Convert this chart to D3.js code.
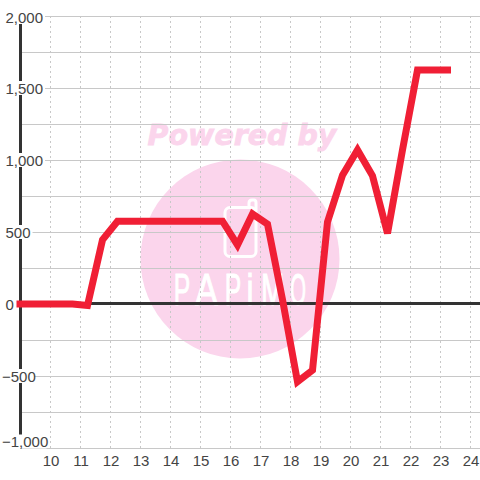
<!DOCTYPE html>
<html><head><meta charset="utf-8">
<style>html,body{margin:0;padding:0;background:#fff}svg{display:block}</style>
<script src="https://cdnjs.cloudflare.com/ajax/libs/d3/7.8.5/d3.min.js"></script>
</head><body><svg id="c" width="480" height="480"></svg>
<script>
const xValues=[9,9.25,9.75,10.25,10.75,11.25,11.75,12.25,12.75,13.25,13.75,14.25,14.75,15.25,15.75,16.25,16.75,17.25,17.75,18.25,18.75,19.25,19.75,20.25,20.75,21.25,21.75,22.25,22.75,23.25];
const yValues=[0,0,0,0,0,-10,445,575,575,575,575,575,575,575,575,410,625,555,30,-540,-460,570,895,1070,890,490,1070,1625,1625,1625];
const xTicks=[10,11,12,13,14,15,16,17,18,19,20,21,22,23,24];
const yLabels=[2000,1500,1000,500,0,-500,-1000];
const yGrid=[2000,1750,1500,1250,1000,750,500,250,-250,-500,-750,-1000];
const logoLetters=["P","A","P","i","M","O"];
const logoCenters=[182,206.5,233,250,272.5,298];
const logoStretch=[.55,.75,.55,.7,.62,.45];
const svg=d3.select("#c");
const x=d3.scaleLinear().domain([9,24.3333]).range([20,480]);
const y=d3.scaleLinear().domain([-1000,2000]).range([448,16]);
const pink="#fbd5ec";
const fmt=d3.format(",");
// watermark
svg.append("text").attr("x",242).attr("y",145).attr("text-anchor","middle")
 .attr("font-family","DejaVu Sans").attr("font-weight","bold").attr("font-style","italic")
 .attr("font-size",28.5).attr("fill",pink).attr("stroke",pink).attr("stroke-width",.8).text("Powered by");
svg.append("circle").attr("cx",240).attr("cy",259).attr("r",99.5).attr("fill",pink);
svg.append("rect").attr("x",225).attr("y",207.5).attr("width",31).attr("height",49).attr("rx",5)
 .attr("fill","none").attr("stroke","#fff").attr("stroke-width",3);
svg.append("path").attr("d","M249 207V203Q249 200 252 200H254Q256 200 256 203V211").attr("fill","none").attr("stroke","#fff").attr("stroke-width",3);
svg.append("g").selectAll("text").data(logoLetters).join("text")
 .attr("transform",(d,i)=>`translate(${logoCenters[i]},305) scale(${logoStretch[i]},1)`)
 .attr("text-anchor","middle").attr("font-family","Liberation Sans").attr("font-size",45)
 .attr("fill","#fff").attr("stroke","#fff").attr("stroke-width",1).text(d=>d);
// grid
const g=svg.append("g");
g.selectAll(".v").data(xTicks).join("line").attr("x1",d=>x(d)+.5).attr("x2",d=>x(d)+.5)
 .attr("y1",16).attr("y2",448).attr("stroke","#c8c8c8").attr("stroke-dasharray","2 3");
g.selectAll(".h").data(yGrid).join("line").attr("x1",20).attr("x2",480)
 .attr("y1",d=>Math.round(y(d))+.5).attr("y2",d=>Math.round(y(d))+.5).attr("stroke","#c8c8c8");
// axes
g.append("line").attr("x1",20.5).attr("x2",20.5).attr("y1",16).attr("y2",448).attr("stroke","#333").attr("stroke-width",3);
g.append("line").attr("x1",20).attr("x2",480).attr("y1",y(0)-.5).attr("y2",y(0)-.5).attr("stroke","#333").attr("stroke-width",3);
// y labels: left aligned with white backing, end labels kept inside the plot height
const labelY=d=>d===-1000?y(d)-6.5:d===2000?y(d)+1:y(d);
const labelX=d=>d<0?2:5.5;
const labelW=d=>fmt(d).replace(/[^0-9]/g,"").length*8.34+(fmt(d).includes(",")?4.17:0)+(d<0?5:0);
const yl=svg.append("g").selectAll("g").data(yLabels).join("g").attr("transform",d=>`translate(${labelX(d)},${labelY(d)})`);
yl.append("rect").attr("x",-1).attr("y",-7).attr("height",14).attr("width",d=>labelW(d)+3).attr("fill","#fff");
yl.append("text").attr("dy",5.5).attr("font-family","Liberation Sans").attr("font-size",15).attr("fill","#444").text(d=>fmt(d));
// x labels
svg.append("g").selectAll("text").data(xTicks).join("text").attr("x",d=>x(d)+1).attr("y",465.5)
 .attr("text-anchor","middle").attr("font-family","Liberation Sans").attr("font-size",15).attr("fill","#444").text(d=>d);
// line
const line=d3.line().x(d=>x(d[0])).y(d=>y(d[1]));
svg.append("path").attr("d",line(xValues.map((v,i)=>[v,yValues[i]]))).attr("fill","none")
 .attr("stroke","#f01f35").attr("stroke-width",7).attr("stroke-linejoin","miter").attr("stroke-linecap","square");
</script></body></html>
